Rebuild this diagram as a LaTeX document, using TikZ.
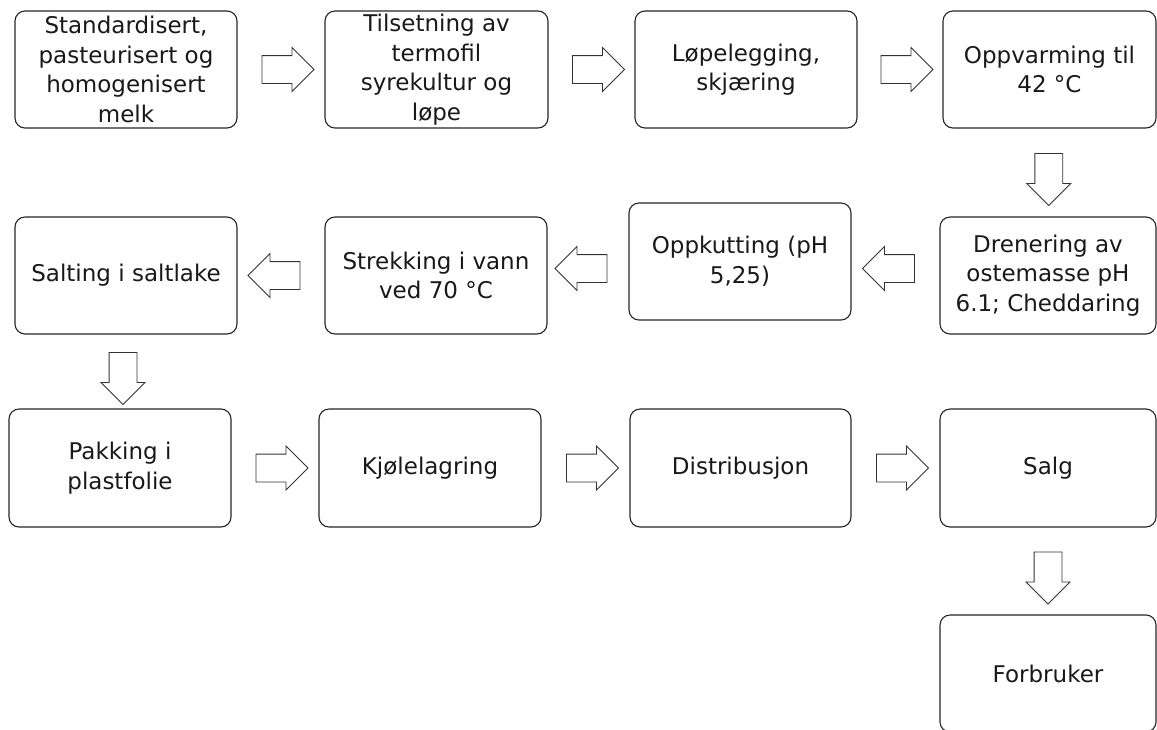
\documentclass[tikz,border=0pt]{standalone}
\usepackage{fontspec}
\setmainfont{DejaVu Sans}
\usetikzlibrary{shapes.arrows,calc}
\tikzset{
  box/.style={draw=black!85, line width=1.1pt, rounded corners=10pt, fill=white,
    align=center, inner sep=2pt, text=black!90,
    font=\fontsize{23}{29.5}\selectfont},
  flow/.style={draw=black!80, fill=white, line width=0.9pt, single arrow,
    inner sep=13.5pt, minimum height=52pt, minimum width=0pt,
    single arrow head extend=8pt, single arrow tip angle=90},
  toright/.style={flow, shape border rotate=0},
  toleft/.style={flow, shape border rotate=180},
  todown/.style={flow, shape border rotate=270},
}
\begin{document}
\begin{tikzpicture}[x=1pt,y=-1pt]
\useasboundingbox (0,0) rectangle (1157,729);
\clip (0,0) rectangle (1157,729);
% row 1
\node[box, minimum width=222pt, minimum height=117pt] (b1) at (126,69.5)
  {Standardisert,\\pasteurisert og\\homogenisert\\melk};
\node[box, minimum width=223pt, minimum height=117pt] (b2) at (436.5,69.5)
  {Tilsetning av\\termofil\\syrekultur og\\løpe};
\node[box, minimum width=222pt, minimum height=117pt] (b3) at (746,69.5)
  {Løpelegging,\\skjæring};
\node[box, minimum width=213pt, minimum height=117pt] (b4) at (1049.5,69.5)
  {Oppvarming til\\42 °C};
% row 2
\node[box, minimum width=216pt, minimum height=117pt] (b5) at (1048,275.5)
  {Drenering av\\ostemasse pH\\6.1; Cheddaring};
\node[box, minimum width=222pt, minimum height=117pt] (b6) at (740,261.5)
  {Oppkutting (pH\\5,25)};
\node[box, minimum width=222pt, minimum height=117pt] (b7) at (436,275.5)
  {Strekking i vann\\ved 70 °C};
\node[box, minimum width=222pt, minimum height=117pt] (b8) at (126,275.5)
  {Salting i saltlake};
% row 3
\node[box, minimum width=222pt, minimum height=118pt] (b9) at (120,468)
  {Pakking i\\plastfolie};
\node[box, minimum width=222pt, minimum height=118pt] (b10) at (430,468)
  {Kjølelagring};
\node[box, minimum width=221pt, minimum height=118pt] (b11) at (740.5,468)
  {Distribusjon};
\node[box, minimum width=216pt, minimum height=118pt] (b12) at (1048,468)
  {Salg};
\node[box, minimum width=216pt, minimum height=117pt] (b13) at (1048,673.5)
  {Forbruker};
% arrows
\node[toright] (a1) at ($(b1.east)!0.5!(b2.west)$) {};
\node[toright] (a2) at ($(b2.east)!0.5!(b3.west)$) {};
\node[toright] (a3) at ($(b3.east)!0.5!(b4.west)$) {};
\node[todown] (a4) at ($(b4.south)!0.5!(b5.north)$) {};
\node[toleft] (a5) at ($(b6.east)!0.5!(b5.west)$) {};
\node[toleft] (a6) at ($(b7.east)!0.5!(b6.west)$) {};
\node[toleft] (a7) at ($(b8.east)!0.5!(b7.west)$) {};
\node[todown] (a8) at ($(b8.south)!0.5!(b9.north)$) {};
\node[toright] (a9) at ($(b9.east)!0.5!(b10.west)$) {};
\node[toright] (a10) at ($(b10.east)!0.5!(b11.west)$) {};
\node[toright] (a11) at ($(b11.east)!0.5!(b12.west)$) {};
\node[todown] (a12) at ($(b12.south)!0.5!(b13.north)$) {};
\end{tikzpicture}
\end{document}
